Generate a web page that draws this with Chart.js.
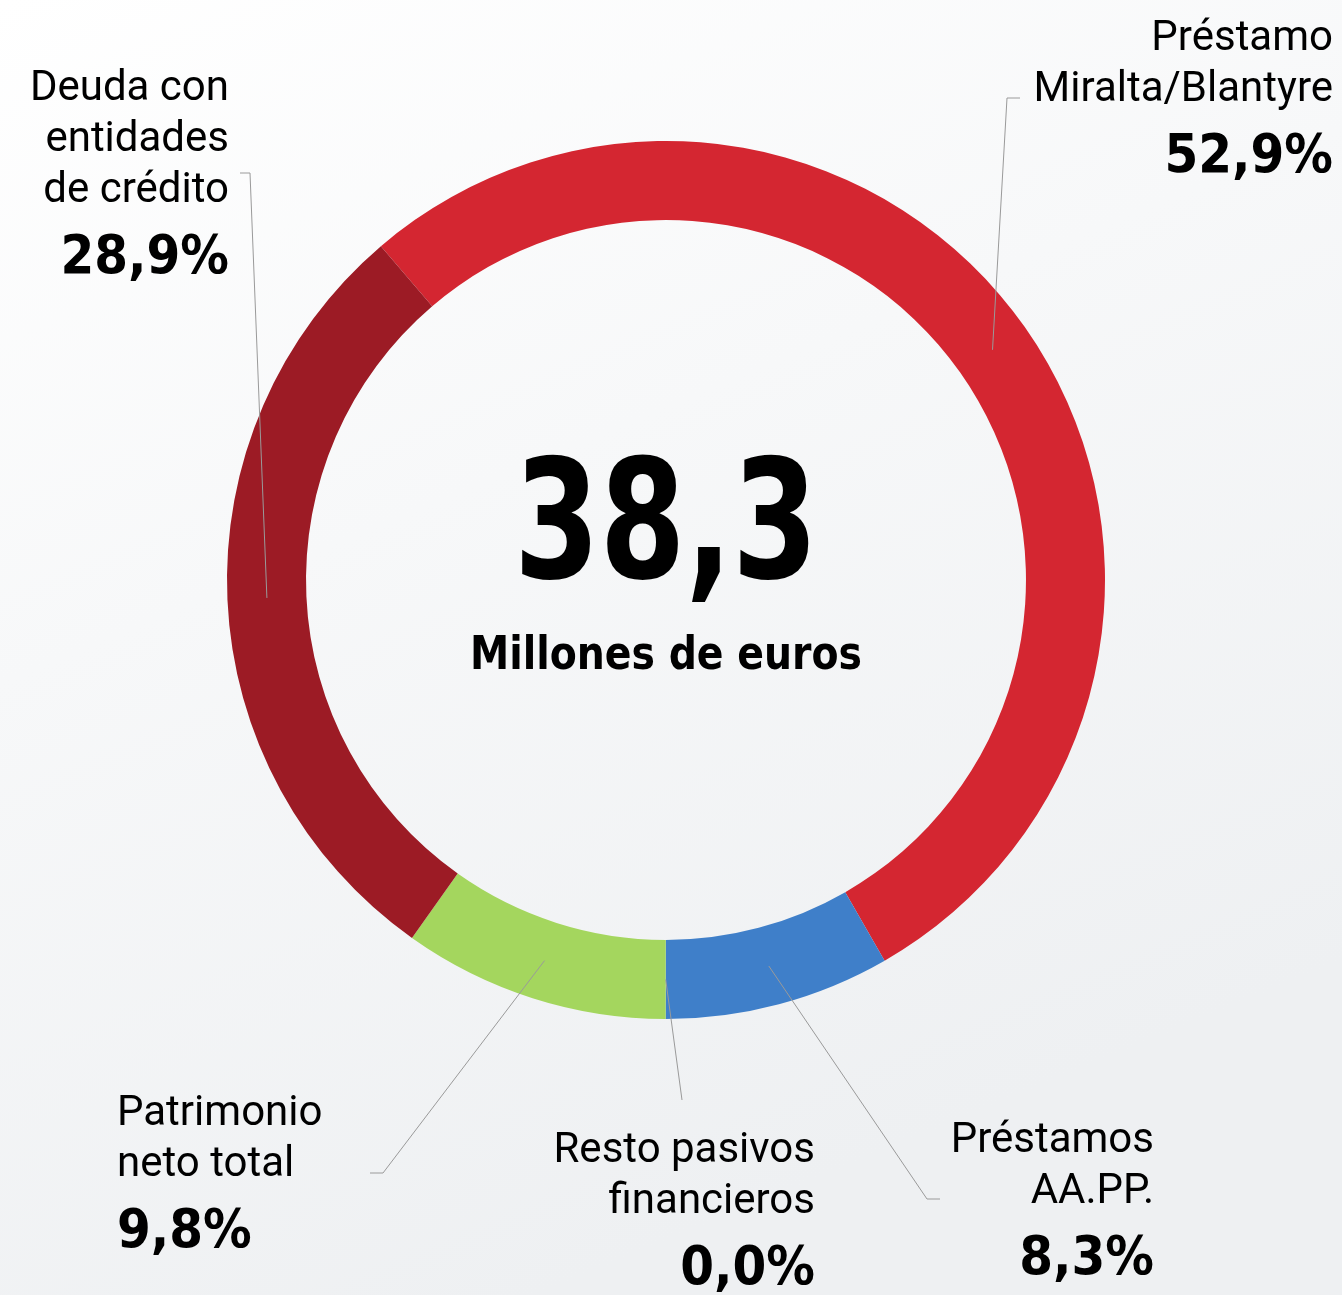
<!DOCTYPE html>
<html>
<head>
<meta charset="utf-8">
<script src="https://cdn.jsdelivr.net/npm/chart.js@4/dist/chart.umd.min.js"></script>
<style>
  html, body { margin: 0; padding: 0; }
  body { width: 1342px; height: 1295px; overflow: hidden; }
  #wrap { width: 1342px; height: 1295px; }
</style>
</head>
<body>
<div id="wrap"><canvas id="grafico"></canvas></div>
<script>
// datos
const categorias = [
  ["Préstamo", "Miralta/Blantyre"],
  ["Préstamos", "AA.PP."],
  ["Resto pasivos", "financieros"],
  ["Patrimonio", "neto total"],
  ["Deuda con", "entidades", "de crédito"],
];
const porcentajes = [52.9, 8.3, 0.0, 9.8, 28.9];
const colores = ["#D42631", "#3F7FC9", "#8a8f96", "#A4D65E", "#9C1B25"];
const total = "38,3";
const unidad = "Millones de euros";

// dónde va cada etiqueta: x, y de la primera línea, alineación, codo de la guía
const etiquetas = [
  { x: 1333, y: 50, align: "right", codo: [1007, 98], fin: [1020, 98] },
  { x: 1154, y: 1152, align: "right", codo: [927, 1199], fin: [940, 1199] },
  { x: 815, y: 1162, align: "right", codo: [682, 1100], fin: null },
  { x: 117, y: 1125, align: "left", codo: [383, 1173], fin: [370, 1173] },
  { x: 229, y: 100, align: "right", codo: [250, 173], fin: [240, 173] },
];

const fmt = (v) => v.toFixed(1).replace(".", ",") + "%";

const fondo = {
  id: "fondo",
  beforeDraw(chart) {
    const { ctx, width, height } = chart;
    const g = ctx.createLinearGradient(0, 0, width * 0.4, height);
    g.addColorStop(0, "#ffffff");
    g.addColorStop(0.45, "#f7f8f9");
    g.addColorStop(1, "#eef0f2");
    ctx.save();
    ctx.fillStyle = g;
    ctx.fillRect(0, 0, width, height);
    ctx.restore();
  },
};

const textos = {
  id: "textos",
  afterDatasetsDraw(chart) {
    const { ctx } = chart;
    const arcs = chart.getDatasetMeta(0).data;
    ctx.save();

    // guías
    ctx.strokeStyle = "#9a9a9a";
    ctx.lineWidth = 1;
    arcs.forEach((arc, i) => {
      const p = arc.tooltipPosition();
      const e = etiquetas[i];
      ctx.beginPath();
      ctx.moveTo(p.x, p.y);
      ctx.lineTo(e.codo[0], e.codo[1]);
      if (e.fin) ctx.lineTo(e.fin[0], e.fin[1]);
      ctx.stroke();
    });

    // etiquetas
    ctx.fillStyle = "#000";
    ctx.textBaseline = "alphabetic";
    categorias.forEach((lineas, i) => {
      const e = etiquetas[i];
      ctx.textAlign = e.align;
      ctx.font = "42px Roboto";
      lineas.forEach((t, j) => ctx.fillText(t, e.x, e.y + j * 51));
      ctx.font = "bold 54px 'DejaVu Sans Condensed'";
      ctx.fillText(fmt(porcentajes[i]), e.x, e.y + (lineas.length - 1) * 51 + 71);
    });

    // centro
    const a = arcs[0];
    ctx.textAlign = "center";
    ctx.font = "bold 166px 'DejaVu Sans Condensed'";
    ctx.fillText(total, a.x, 578, 304);
    ctx.font = "bold 47px 'DejaVu Sans Condensed'";
    ctx.fillText(unidad, a.x, 669, 392);
    ctx.restore();
  },
};

new Chart(document.querySelector("#grafico"), {
  type: "doughnut",
  data: {
    labels: categorias.map((c) => c.join(" ")),
    datasets: [
      {
        data: porcentajes,
        backgroundColor: colores,
        borderWidth: 0,
      },
    ],
  },
  options: {
    responsive: true,
    maintainAspectRatio: false,
    animation: false,
    cutout: "82%",
    rotation: -40.5,
    layout: { padding: { top: 141, bottom: 276, left: 227, right: 237 } },
    plugins: {
      legend: { display: false },
      tooltip: { enabled: false },
    },
  },
  plugins: [fondo, textos],
});
</script>
</body>
</html>
